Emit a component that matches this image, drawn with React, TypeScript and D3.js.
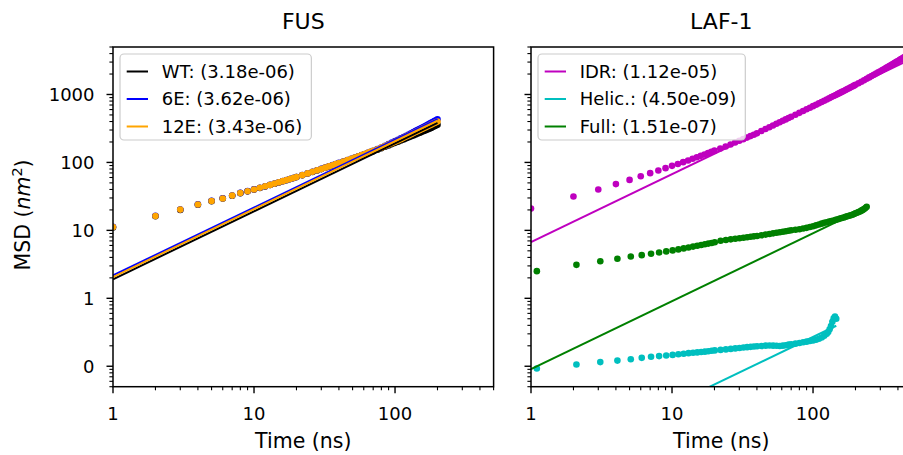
import React from 'react';
import * as d3 from 'd3';

const W = 903;
const H = 455;
const FONT = 'DejaVu Sans, Liberation Sans, sans-serif';

// ---------------- FUS panel data ----------------
const fusTime = [1, 2, 3, 4, 5, 6, 7, 8, 9, 10, 11, 12, 13, 14, 15, 16, 17, 18, 19, 20,
  22, 24, 26, 28, 30, 32, 34, 36, 38, 40,
  43, 46, 49, 52, 55, 58, 61, 64, 67, 70,
  75, 80, 85, 90, 95, 100, 105, 110, 115, 120, 125, 130, 135, 140, 145, 150, 155, 160, 165, 170, 175, 180, 185, 190, 195, 200];

const wtMSD = [11.0, 16.1, 20.0, 23.8, 26.9, 29.4, 32.3, 35.3, 37.5, 39.8,
  42.1, 44.3, 46.5, 48.6, 50.7, 52.8, 54.8, 56.8, 58.8, 60.8,
  64.7, 68.6, 72.4, 76.1, 79.7, 83.2, 86.7, 90.2, 93.6, 97.0,
  102, 107, 112, 117, 122, 127, 132, 136, 141, 146,
  154, 162, 170, 178, 186, 194, 202, 210, 218, 226, 234, 242, 250, 258, 266, 274, 282, 290, 298, 306, 314, 322, 331, 340, 349, 360];

const e6MSD = [11.3, 16.4, 20.3, 24.1, 27.2, 29.6, 32.6, 35.6, 37.8, 40.1,
  42.4, 44.6, 46.8, 48.9, 51.0, 53.1, 55.1, 57.1, 59.1, 61.1,
  65.1, 69.1, 72.9, 76.7, 80.4, 84.0, 87.6, 91.2, 94.8, 98.4,
  103, 108, 113, 118, 123, 128, 133, 138, 143, 148,
  157, 166, 176, 186, 196, 206, 216, 226, 236, 247, 258, 269, 280, 291, 302, 313, 324, 335, 346, 358, 370, 382, 394, 406, 418, 432];

const e12MSD = [11.2, 16.3, 20.2, 24.0, 27.1, 29.5, 32.5, 35.5, 37.7, 40.0,
  42.3, 44.5, 46.7, 48.8, 50.9, 53.0, 55.0, 57.0, 59.0, 61.0,
  65.0, 69.0, 72.8, 76.5, 80.2, 83.8, 87.4, 91.0, 94.5, 98.0,
  103, 108, 113, 118, 123, 128, 133, 138, 143, 148,
  156, 165, 174, 183, 192, 201, 210, 220, 230, 240, 250, 260, 270, 280, 290, 300, 310, 320, 330, 340, 350, 360, 370, 380, 390, 400];

const fusLabels = ['WT: (3.18e-06)', '6E: (3.62e-06)', '12E: (3.43e-06)'];
const fusD = [3.18e-06, 3.62e-06, 3.43e-06];
const fusColors = ['#000000', '#0000ff', '#ffa500'];

// ---------------- LAF-1 panel data ----------------
const idrTime = [1, 2, 3, 4, 5, 6, 7, 8, 9, 10, 11, 12, 13, 14, 15, 16, 17, 18, 19, 20,
  22, 24, 26, 28, 30, 32, 34, 36, 38, 40,
  43, 46, 49, 52, 55, 58, 61, 64, 67, 70,
  75, 80, 85, 90, 95, 100, 105, 110, 115, 120, 125, 130, 135, 140, 145, 150, 155, 160, 165, 170, 175, 180, 185, 190, 195, 200,
  210, 220, 230, 240, 250, 260, 270, 280, 290, 300, 310, 320, 330, 340, 350, 360, 370, 380, 390, 400, 410, 420, 430, 440, 450, 460, 470, 480, 490, 500];

const idrMSD = [20.9, 31.5, 40, 48, 55.3, 62.5, 69.5, 76, 82.4, 89,
  95, 101, 107, 113, 119, 125, 131, 137, 143, 149,
  160, 172, 184, 196, 208, 220, 232, 244, 256, 268,
  290, 310, 330, 350, 370, 390, 410, 430, 450, 470,
  503, 537, 571, 605, 639, 673, 707, 741, 775, 810, 845, 880, 915, 950, 985, 1020, 1056, 1092, 1128, 1164, 1200, 1237, 1274, 1311, 1349, 1387,
  1465, 1543, 1622, 1702, 1783, 1865, 1948, 2032, 2117, 2203, 2290, 2378, 2467, 2557, 2648, 2740, 2833, 2927, 3022, 3118, 3215, 3313, 3412, 3512, 3613, 3715, 3818, 3922, 4027, 4133];

const helicTime = [1.1, 2.1, 3.1, 4.1, 5.1, 6.1, 7.1, 8.1, 9.1, 10.1, 11.1, 12.1, 13.1, 14.1, 15.1, 16.1, 17.1, 18.1, 19.1, 20.1,
  22.1, 24.1, 26.1, 28.1, 30.1, 32.1, 34.1, 36.1, 38.1, 40.1,
  43.1, 46.1, 49.1, 52.1, 55.1, 58.1, 61.1, 64.1, 67.1, 70.1,
  75.1, 80.1, 85.1, 90.1, 95.1, 100.1, 105.1, 110.1, 115.1, 120.1, 125.1,
  128.1, 131.1, 134.1, 137.1, 140.1, 143.1, 146.1];

const helicMSD = [0.0925, 0.106, 0.115, 0.121, 0.127, 0.133, 0.138, 0.141, 0.144, 0.147,
  0.150, 0.153, 0.156, 0.158, 0.160, 0.162, 0.164, 0.166, 0.169, 0.171,
  0.174, 0.177, 0.180, 0.183, 0.186, 0.189, 0.191, 0.193, 0.195, 0.197,
  0.199, 0.201, 0.202, 0.201, 0.200, 0.199, 0.201, 0.204, 0.208, 0.211,
  0.215, 0.220, 0.225, 0.230, 0.235, 0.240, 0.246, 0.254, 0.265, 0.280, 0.300,
  0.320, 0.350, 0.390, 0.450, 0.510, 0.540, 0.500];

const fullTime = [1.1, 2.1, 3.1, 4.1, 5.1, 6.1, 7.1, 8.1, 9.1, 10.1, 11.1, 12.1, 13.1, 14.1, 15.1, 16.1, 17.1, 18.1, 19.1, 20.1,
  22.1, 24.1, 26.1, 28.1, 30.1, 32.1, 34.1, 36.1, 38.1, 40.1,
  43.1, 46.1, 49.1, 52.1, 55.1, 58.1, 61.1, 64.1, 67.1, 70.1,
  75.1, 80.1, 85.1, 90.1, 95.1, 100.1, 105.1, 110.1, 115.1, 120.1, 125.1, 130.1, 135.1, 140.1, 145.1, 150.1, 155.1, 160.1, 165.1, 170.1,
  175.1, 180.1, 185.1, 190.1, 195.1, 200.1, 205.1, 210.1, 215.1, 220.1, 225.1, 230.1, 235.1, 240.1];

const fullMSD = [2.51, 3.11, 3.52, 3.82, 4.13, 4.32, 4.53, 4.73, 4.90, 5.07,
  5.25, 5.43, 5.60, 5.77, 5.93, 6.09, 6.24, 6.39, 6.53, 6.67,
  7.05, 7.22, 7.38, 7.53, 7.67, 7.80, 7.93, 8.05, 8.17, 8.28,
  8.48, 8.67, 8.86, 9.04, 9.22, 9.39, 9.56, 9.72, 9.88, 10.03,
  10.2, 10.4, 10.65, 10.9, 11.2, 11.5, 11.85, 12.2, 12.55, 12.9, 13.2, 13.5, 13.75, 14.0, 14.3, 14.6, 14.9, 15.2, 15.5, 15.8,
  16.1, 16.4, 16.7, 17.0, 17.4, 17.8, 18.2, 18.6, 19.0, 19.5, 20.0, 20.6, 21.3, 22.2];

const lafLabels = ['IDR: (1.12e-05)', 'Helic.: (4.50e-09)', 'Full: (1.51e-07)'];
const lafD = [1.12e-05, 4.50e-09, 1.51e-07];
const lafColors = ['#bf00bf', '#00bfbf', '#008000'];

// axis tick values / labels
const xMajorTicks = [1, 10, 100];
const xMajorLabels = ['1', '10', '100'];
const yMajorTicks = [0.1, 1, 10, 100, 1000];
const yMajorLabels = ['0', '1', '10', '100', '1000'];

const xDomain: [number, number] = [1, 500];
const yDomain: [number, number] = [0.05, 5000];

// MSD = 6 D t, D in cm^2/s -> nm^2/ns factor 1e5
const fitMSD = (D: number, t: number) => 6 * D * 1e5 * t;

let measureCtx: CanvasRenderingContext2D | null = null;
function textWidth(s: string, font: string) {
  if (!measureCtx && typeof document !== 'undefined') {
    measureCtx = document.createElement('canvas').getContext('2d');
  }
  if (!measureCtx) return s.length * 10;
  measureCtx.font = font;
  return measureCtx.measureText(s).width;
}

function minorTicks(domain: [number, number], majors: number[]) {
  const out: number[] = [];
  const lo = Math.floor(Math.log10(domain[0]));
  const hi = Math.ceil(Math.log10(domain[1]));
  for (let e = lo; e <= hi; e++) {
    for (let k = 1; k <= 9; k++) {
      const v = k * Math.pow(10, e);
      if (v < domain[0] * 0.9999 || v > domain[1] * 1.0001) continue;
      if (majors.some((m) => Math.abs(m - v) / v < 1e-6)) continue;
      out.push(v);
    }
  }
  return out;
}

type Series = { t: number[]; v: number[]; D: number; color: string; label: string };

const TOP = 47;
const BOTTOM = 386.7;
const TICK_FS = 18;
const LABEL_FS = 20.5;
const TITLE_FS = 22;

function Panel({ x0, x1, title, series, showYLabels, id }: { x0: number; x1: number; title: string; series: Series[]; showYLabels: boolean; id: string }) {
  const x = d3.scaleLog().domain(xDomain).range([x0, x1]);
  const y = d3.scaleLog().domain(yDomain).range([BOTTOM, TOP]);
  const line = d3.line<[number, number]>().x((d) => x(d[0])).y((d) => y(d[1]));
  const xMinor = minorTicks(xDomain, xMajorTicks);
  const yMinor = minorTicks(yDomain, yMajorTicks);
  const clipId = `clip-${id}`;
  const legendFont = `${TICK_FS}px DejaVu Sans`;
  const maxW = Math.max(...series.map((s) => textWidth(s.label, legendFont)));
  const lgX = x0 + 7;
  const lgY = TOP + 7;
  const lgW = 41.7 + maxW + 9;
  const lgH = 86;
  const rowY = [lgY + 17.5, lgY + 45, lgY + 72.5];
  const cx = (x0 + x1) / 2;
  const MAJ = 6.5;
  const MIN = 3.6;
  return (
    <g>
      <defs>
        <clipPath id={clipId}>
          <rect x={x0} y={TOP} width={x1 - x0} height={BOTTOM - TOP} />
        </clipPath>
      </defs>
      <g clipPath={`url(#${clipId})`}>
        {series.map((s, si) => (
          <g key={`sc${si}`} fill={s.color}>
            {s.t.map((t, i) => (
              <circle key={i} cx={x(t)} cy={y(s.v[i])} r={3.3} />
            ))}
          </g>
        ))}
        {series.map((s, si) => {
          const tEnd = s.t[s.t.length - 1];
          const pts: [number, number][] = [[1, fitMSD(s.D, 1)], [tEnd, fitMSD(s.D, tEnd)]];
          return <path key={`ln${si}`} d={line(pts) || ''} fill="none" stroke={s.color} strokeWidth={2} />;
        })}
      </g>
      {/* spines */}
      <rect x={x0} y={TOP} width={x1 - x0} height={BOTTOM - TOP} fill="none" stroke="#000" strokeWidth={1.5} />
      {/* x ticks */}
      {xMajorTicks.map((t, i) => (
        <g key={`xm${i}`}>
          <line x1={x(t)} x2={x(t)} y1={BOTTOM} y2={BOTTOM + MAJ} stroke="#000" strokeWidth={1.4} />
          <text x={x(t)} y={419.5} textAnchor="middle" fontSize={TICK_FS} fontFamily={FONT}>{xMajorLabels[i]}</text>
        </g>
      ))}
      {xMinor.map((t, i) => (
        <line key={`xn${i}`} x1={x(t)} x2={x(t)} y1={BOTTOM} y2={BOTTOM + MIN} stroke="#000" strokeWidth={1.1} />
      ))}
      {/* y ticks */}
      {yMajorTicks.map((v, i) => (
        <g key={`ym${i}`}>
          <line x1={x0 - MAJ} x2={x0} y1={y(v)} y2={y(v)} stroke="#000" strokeWidth={1.4} />
          {showYLabels && (
            <text x={x0 - 18.5} y={y(v) + 6.5} textAnchor="end" fontSize={TICK_FS} fontFamily={FONT}>{yMajorLabels[i]}</text>
          )}
        </g>
      ))}
      {yMinor.map((v, i) => (
        <line key={`yn${i}`} x1={x0 - MIN} x2={x0} y1={y(v)} y2={y(v)} stroke="#000" strokeWidth={1.1} />
      ))}
      {/* title & x label */}
      <text x={cx} y={29.3} textAnchor="middle" fontSize={TITLE_FS} fontFamily={FONT}>{title}</text>
      <text x={cx} y={448} textAnchor="middle" fontSize={LABEL_FS} fontFamily={FONT}>Time (ns)</text>
      {/* legend */}
      <rect x={lgX} y={lgY} width={lgW} height={lgH} rx={4} ry={4} fill="#ffffff" fillOpacity={0.8} stroke="#cccccc" strokeWidth={1.2} />
      {series.map((s, i) => (
        <g key={`lg${i}`}>
          <line x1={lgX + 6.7} x2={lgX + 28} y1={rowY[i]} y2={rowY[i]} stroke={s.color} strokeWidth={2} />
          <text x={lgX + 41.7} y={rowY[i] + 6.3} fontSize={TICK_FS} fontFamily={FONT}>{s.label}</text>
        </g>
      ))}
    </g>
  );
}

export default function App() {
  const fusSeries: Series[] = [
    { t: fusTime, v: wtMSD, D: fusD[0], color: fusColors[0], label: fusLabels[0] },
    { t: fusTime, v: e6MSD, D: fusD[1], color: fusColors[1], label: fusLabels[1] },
    { t: fusTime, v: e12MSD, D: fusD[2], color: fusColors[2], label: fusLabels[2] },
  ];
  const lafSeries: Series[] = [
    { t: idrTime, v: idrMSD, D: lafD[0], color: lafColors[0], label: lafLabels[0] },
    { t: helicTime, v: helicMSD, D: lafD[1], color: lafColors[1], label: lafLabels[1] },
    { t: fullTime, v: fullMSD, D: lafD[2], color: lafColors[2], label: lafLabels[2] },
  ];
  return (
    <svg width={W} height={H} viewBox={`0 0 ${W} ${H}`} style={{ position: 'absolute', left: 0, top: 0, background: '#fff' }}>
      <rect x={0} y={0} width={W} height={H} fill="#fff" />
      <Panel id="fus" x0={113} x1={493.6} title="FUS" series={fusSeries} showYLabels={true} />
      <Panel id="laf" x0={531} x1={911.6} title="LAF-1" series={lafSeries} showYLabels={false} />
      <text transform={`translate(29.5, 215) rotate(-90)`} textAnchor="middle" fontSize={LABEL_FS} fontFamily={FONT}>
        MSD (<tspan fontStyle="italic">nm</tspan><tspan fontSize={LABEL_FS * 0.7} dy={-8}>2</tspan><tspan dy={8}>)</tspan>
      </text>
    </svg>
  );
}
